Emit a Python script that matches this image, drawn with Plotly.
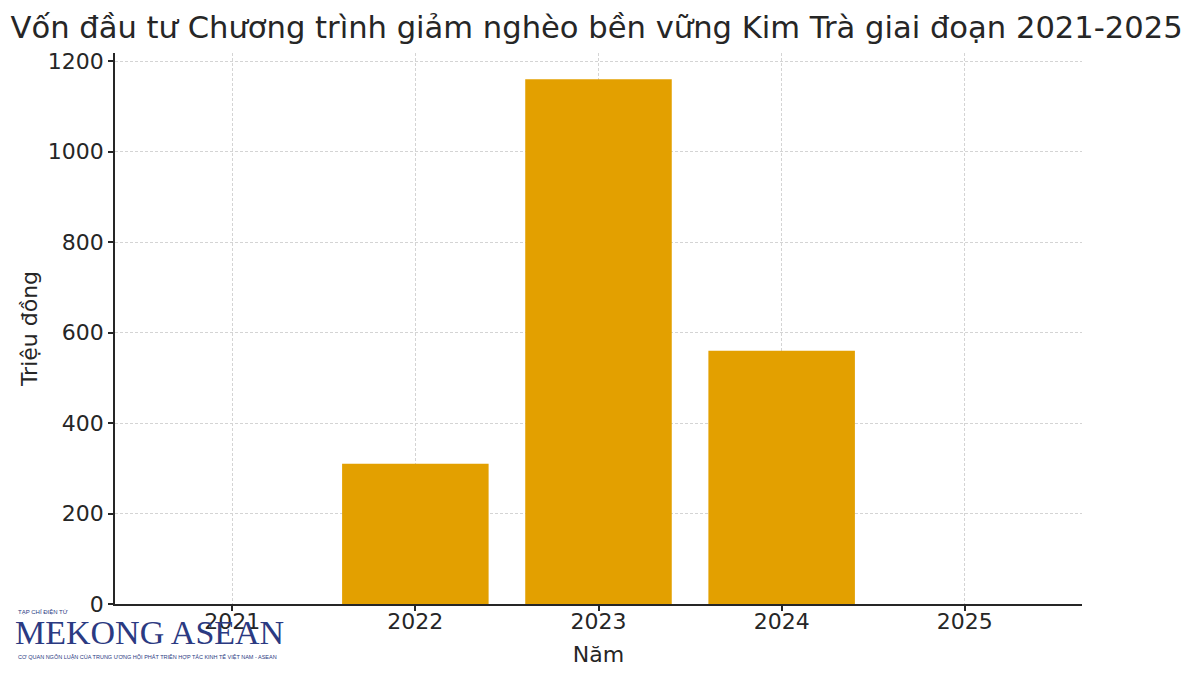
import plotly.graph_objects as go

years = ["2021", "2022", "2023", "2024", "2025"]
values = [0, 310, 1160, 560, 0]
y_ticks = [0, 200, 400, 600, 800, 1000, 1200]

title_text = "Vốn đầu tư Chương trình giảm nghèo bền vững Kim Trà giai đoạn 2021-2025"
x_title = "Năm"
y_title = "Triệu đồng"

FONT = "DejaVu Sans"
BAR_COLOR = "#E3A000"
TEXT_COLOR = "#262626"
GRID = "#d4d4d4"

fig = go.Figure()
fig.add_trace(go.Bar(x=years, y=values, marker=dict(color=BAR_COLOR, line=dict(width=0)),
                     width=0.8, showlegend=False))

fig.update_layout(
    width=1200, height=678,
    paper_bgcolor="white", plot_bgcolor="white",
    margin=dict(l=107, r=126, t=45, b=82, autoexpand=False),
    font=dict(family=FONT, color=TEXT_COLOR, size=22),
    title=dict(text=title_text, x=0.4905, xanchor="center", y=0.987, yanchor="top",
               font=dict(family=FONT, size=30.6, color=TEXT_COLOR)),
    xaxis=dict(
        type="category", range=[-0.64, 4.64],
        showline=True, linecolor=TEXT_COLOR, linewidth=1.6,
        ticks="outside", ticklen=5, tickwidth=1.5, tickcolor=TEXT_COLOR,
        showgrid=True, gridcolor=GRID, griddash="3px,2px", gridwidth=1,
        tickfont=dict(size=22, family=FONT, color=TEXT_COLOR),
        ticklabelstandoff=-8,
        title=dict(text=x_title, font=dict(size=22, family=FONT, color=TEXT_COLOR), standoff=13),
        zeroline=False, automargin=False,
    ),
    yaxis=dict(
        range=[0, 1218], tickvals=y_ticks,
        showline=True, linecolor=TEXT_COLOR, linewidth=1.6,
        ticks="outside", ticklen=5, tickwidth=1.5, tickcolor=TEXT_COLOR,
        showgrid=True, gridcolor=GRID, griddash="3px,2px", gridwidth=1,
        tickfont=dict(size=22, family=FONT, color=TEXT_COLOR),
        title=dict(text=y_title, font=dict(size=22, family=FONT, color=TEXT_COLOR), standoff=4),
        zeroline=False, automargin=False,
    ),
)

LOGO = "#2B3A82"
fig.add_annotation(text="TẠP CHÍ ĐIỆN TỬ", xref="paper", yref="paper",
                   x=-115/967 + 16/967, y=-0.003, xanchor="left", yanchor="top", showarrow=False,
                   font=dict(family="Liberation Sans", size=6, color=LOGO))
fig.add_annotation(text="MEKONG ASEAN", xref="paper", yref="paper",
                   x=-115/967 + 13/967, y=-0.015, xanchor="left", yanchor="top", showarrow=False,
                   font=dict(family="Liberation Serif", size=34, color=LOGO))
fig.add_annotation(text="CƠ QUAN NGÔN LUẬN CỦA TRUNG ƯƠNG HỘI PHÁT TRIỂN HỢP TÁC KINH TẾ VIỆT NAM - ASEAN",
                   xref="paper", yref="paper",
                   x=-115/967 + 16/967, y=-0.086, xanchor="left", yanchor="top", showarrow=False,
                   font=dict(family="Liberation Sans", size=5.5, color=LOGO))

fig.write_html("out.html")
